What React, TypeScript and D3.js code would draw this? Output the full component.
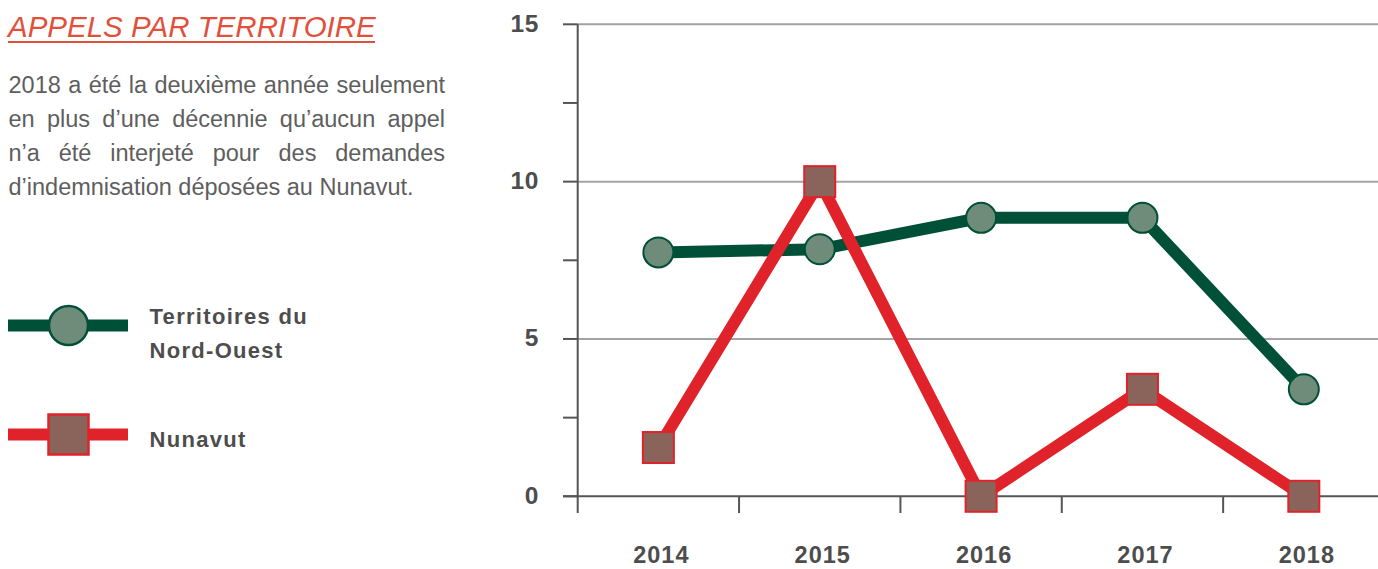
import React, { useEffect, useRef } from 'react';
import * as d3 from 'd3';

// Data
const years = ['2014', '2015', '2016', '2017', '2018'];
const nwtValues = [7.75, 7.85, 8.85, 8.85, 3.4];
const nunavutValues = [1.55, 10, 0, 3.4, 0];
const yTicks = [0, 5, 10, 15];
const yMinorTicks = [2.5, 7.5, 12.5];

const title = 'APPELS PAR TERRITOIRE';
const paragraph = [
  '2018 a été la deuxième année seulement',
  'en plus d’une décennie qu’aucun appel',
  'n’a été interjeté pour des demandes',
  'd’indemnisation déposées au Nunavut.'
];
const nwtLabel = ['Territoires du', 'Nord-Ouest'];
const nunavutLabel = ['Nunavut'];

const WIDTH = 1378;
const HEIGHT = 569;
const FONT = '"Liberation Sans", Arial, Helvetica, sans-serif';

const GREEN = '#005038';
const GREEN_FILL = '#6f8b79';
const RED = '#e0232a';
const RED_FILL = '#8a645a';
const AXIS = '#555555';
const GRID = '#a3a3a3';
const LABEL = '#4d4d4d';

function App() {
  const ref = useRef<SVGSVGElement>(null);

  useEffect(() => {
    drawChart();
  }, []);

  function drawChart() {
    const svg = d3.select(ref.current);
    svg.selectAll('*').remove();

    // ----- left text panel -----
    svg
      .append('text')
      .attr('x', 8)
      .attr('y', 37)
      .style('font-family', FONT)
      .style('font-style', 'italic')
      .style('font-size', '29.5px')
      .style('fill', '#e2503b')
      .text(title);
    svg
      .append('line')
      .attr('x1', 8)
      .attr('x2', 375)
      .attr('y1', 42)
      .attr('y2', 42)
      .style('stroke', '#e2503b')
      .style('stroke-width', 2);

    // justified paragraph
    const left = 8.5;
    const right = 445;
    paragraph.forEach((line, i) => {
      const words = line.split(' ');
      const g = svg.append('g');
      const nodes = words.map(w =>
        g
          .append('text')
          .attr('y', 93 + i * 34)
          .style('font-family', FONT)
          .style('font-size', '23.5px')
          .style('fill', '#5e5e5e')
          .text(w)
      );
      const widths = nodes.map(n => (n.node() as SVGTextElement).getComputedTextLength());
      const total = d3.sum(widths);
      const last = i === paragraph.length - 1;
      const gap = last ? 23.5 * 0.278 : (right - left - total) / (words.length - 1);
      let x = left;
      nodes.forEach((n, j) => {
        n.attr('x', x);
        x += widths[j] + gap;
      });
    });

    // ----- legend -----
    const legend = [
      { labels: nwtLabel, color: GREEN, fill: GREEN_FILL, shape: 'circle', y: 325.5, textY: 324 },
      { labels: nunavutLabel, color: RED, fill: RED_FILL, shape: 'square', y: 434.5, textY: 446.5 }
    ];
    legend.forEach(l => {
      svg
        .append('line')
        .attr('x1', 8)
        .attr('x2', 128)
        .attr('y1', l.y)
        .attr('y2', l.y)
        .style('stroke', l.color)
        .style('stroke-width', 12);
      if (l.shape === 'circle') {
        svg
          .append('circle')
          .attr('cx', 68.5)
          .attr('cy', l.y)
          .attr('r', 19.5)
          .style('fill', l.fill)
          .style('stroke', l.color)
          .style('stroke-width', 2.5);
      } else {
        svg
          .append('rect')
          .attr('x', 68.5 - 20)
          .attr('y', l.y - 20)
          .attr('width', 40)
          .attr('height', 40)
          .style('fill', l.fill)
          .style('stroke', l.color)
          .style('stroke-width', 2.5);
      }
      l.labels.forEach((t, k) => {
        svg
          .append('text')
          .attr('x', 149.5)
          .attr('y', l.textY + k * 34)
          .style('font-family', FONT)
          .style('font-weight', 'bold')
          .style('font-size', '22px')
          .style('letter-spacing', '1.3px')
          .style('fill', LABEL)
          .text(t);
      });
    });

    // ----- chart -----
    const x = d3.scaleBand<string>().domain(years).range([577.7, 1384.5]);
    const y = d3.scaleLinear().domain([0, 15]).range([496.3, 24.3]);
    const cx = (d: string) => (x(d) as number) + x.bandwidth() / 2;

    // gridlines (except zero, which is the axis)
    svg
      .selectAll('.grid')
      .data(yTicks.filter(t => t !== 0))
      .enter()
      .append('line')
      .attr('x1', 577.7)
      .attr('x2', WIDTH)
      .attr('y1', d => y(d))
      .attr('y2', d => y(d))
      .style('stroke', GRID)
      .style('stroke-width', 2);

    // y ticks (major + minor)
    svg
      .selectAll('.ytick')
      .data(yTicks.concat(yMinorTicks))
      .enter()
      .append('line')
      .attr('x1', 563)
      .attr('x2', 577.7)
      .attr('y1', d => y(d))
      .attr('y2', d => y(d))
      .style('stroke', AXIS)
      .style('stroke-width', 2);

    // y labels
    svg
      .selectAll('.ylabel')
      .data(yTicks)
      .enter()
      .append('text')
      .attr('x', 539)
      .attr('y', d => y(d))
      .attr('dy', '0.3em')
      .attr('text-anchor', 'end')
      .style('font-family', FONT)
      .style('font-weight', 'bold')
      .style('font-size', '24.5px')
      .style('letter-spacing', '0.6px')
      .style('fill', LABEL)
      .text(d => d);

    // x axis line
    svg
      .append('line')
      .attr('x1', 563)
      .attr('x2', WIDTH)
      .attr('y1', y(0))
      .attr('y2', y(0))
      .style('stroke', AXIS)
      .style('stroke-width', 2);

    // y axis line
    svg
      .append('line')
      .attr('x1', 577.7)
      .attr('x2', 577.7)
      .attr('y1', y(15))
      .attr('y2', 513)
      .style('stroke', AXIS)
      .style('stroke-width', 2);

    // x ticks at band boundaries
    svg
      .selectAll('.xtick')
      .data(years.slice(1))
      .enter()
      .append('line')
      .attr('x1', d => x(d) as number)
      .attr('x2', d => x(d) as number)
      .attr('y1', y(0))
      .attr('y2', 513)
      .style('stroke', AXIS)
      .style('stroke-width', 2);

    // x labels
    svg
      .selectAll('.xlabel')
      .data(years)
      .enter()
      .append('text')
      .attr('x', d => cx(d) + 3)
      .attr('y', 563)
      .attr('text-anchor', 'middle')
      .style('font-family', FONT)
      .style('font-weight', 'bold')
      .style('font-size', '23.5px')
      .style('letter-spacing', '1px')
      .style('fill', LABEL)
      .text(d => d);

    const lineGen = d3
      .line<number>()
      .x((_, i) => cx(years[i]))
      .y(d => y(d));

    // lines
    svg
      .append('path')
      .attr('d', lineGen(nwtValues))
      .style('fill', 'none')
      .style('stroke', GREEN)
      .style('stroke-width', 12)
      .style('stroke-linejoin', 'miter');

    svg
      .append('path')
      .attr('d', lineGen(nunavutValues))
      .style('fill', 'none')
      .style('stroke', RED)
      .style('stroke-width', 12)
      .style('stroke-linejoin', 'miter');

    // markers
    svg
      .selectAll('.nwt')
      .data(nwtValues)
      .enter()
      .append('circle')
      .attr('cx', (_, i) => cx(years[i]))
      .attr('cy', d => y(d))
      .attr('r', 15)
      .style('fill', GREEN_FILL)
      .style('stroke', GREEN)
      .style('stroke-width', 2);

    svg
      .selectAll('.nunavut')
      .data(nunavutValues)
      .enter()
      .append('rect')
      .attr('x', (_, i) => cx(years[i]) - 15.5)
      .attr('y', d => y(d) - 15.5)
      .attr('width', 31)
      .attr('height', 31)
      .style('fill', RED_FILL)
      .style('stroke', RED)
      .style('stroke-width', 2);
  }

  return (
    <svg
      ref={ref}
      width={WIDTH}
      height={HEIGHT}
      style={{ position: 'absolute', left: 0, top: 0, background: '#ffffff' }}
    />
  );
}

export default App;
